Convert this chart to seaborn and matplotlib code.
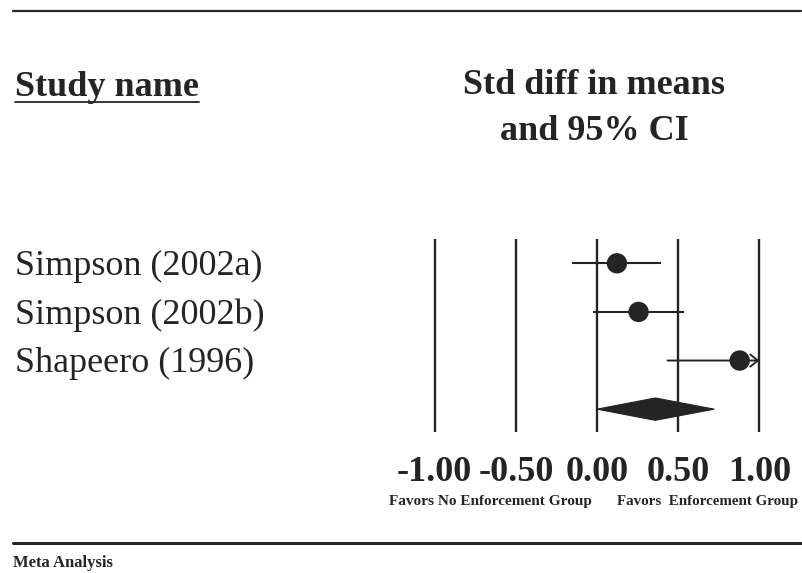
import matplotlib
matplotlib.use("Agg")
import matplotlib.pyplot as plt
import matplotlib.transforms as mtransforms
from matplotlib.patches import Polygon
from matplotlib.lines import Line2D
import numpy as np
import pandas as pd
import seaborn as sns

# Individual studies: standardized difference in means with 95% CI
studies = ["Simpson (2002a)", "Simpson (2002b)", "Shapeero (1996)"]
effect = [0.123, 0.256, 0.879]
ci_low = [-0.154, -0.025, 0.435]
ci_high = [0.396, 0.534, 1.320]

# Pooled estimate
summary_effect = 0.359
summary_low = 0.000
summary_high = 0.723

ticks = [-1.0, -0.5, 0.0, 0.5, 1.0]
tick_labels = ["-1.00", "-0.50", "0.00", "0.50", "1.00"]
left_note = "Favors No Enforcement Group"
right_note = "Favors  Enforcement Group"

INK = "#242424"
W, H = 803, 573

sns.set_theme(style="white")
plt.rcParams["font.family"] = ["Liberation Serif", "DejaVu Serif"]

fig = plt.figure(figsize=(W / 100, H / 100), dpi=100)
fig.patch.set_facecolor("white")

# plotting panel placed in pixel units
x0, x1 = 434.7, 759.3
y0, y1 = 239.0, 432.0
ax = fig.add_axes([x0 / W, 1 - y1 / H, (x1 - x0) / W, (y1 - y0) / H])
ax.set_xlim(-1, 1)
n = len(studies)
ax.set_ylim(n + 0.47, -0.5)
for s in ax.spines.values():
    s.set_visible(False)
ax.set_facecolor("none")
ax.set_yticks([])

# reference lines at each tick
ax.vlines(ticks, -0.5, n + 0.47, color=INK, lw=1.7, zorder=1, clip_on=False)

df = pd.DataFrame({"study": studies, "effect": effect,
                   "low": ci_low, "high": ci_high, "row": np.arange(n)})

# confidence intervals (truncated ones end in an open arrow at the axis limit)
lo_lim, hi_lim = ax.get_xlim()
for _, r in df.iterrows():
    lo = max(r["low"], lo_lim)
    hi = min(r["high"], hi_lim)
    if r["high"] > hi_lim:
        ax.annotate("", xy=(hi, r["row"]), xytext=(lo, r["row"]),
                    arrowprops=dict(arrowstyle="->, head_length=0.27, head_width=0.22",
                                    color=INK, lw=1.4, mutation_scale=20,
                                    shrinkA=0, shrinkB=0),
                    zorder=4, annotation_clip=False)
    else:
        ax.hlines(r["row"], lo, hi, color=INK, lw=1.5, zorder=2, clip_on=False)

sns.scatterplot(data=df, x="effect", y="row", ax=ax, s=215, color=INK,
                edgecolor="none", zorder=3, clip_on=False, legend=False)

# summary diamond
yd = n
hd = 0.23
diamond = Polygon([(summary_low, yd), (summary_effect, yd - hd),
                   (summary_high, yd), (summary_effect, yd + hd)],
                  closed=True, facecolor=INK, edgecolor=INK, lw=0.8, zorder=3,
                  clip_on=False)
ax.add_patch(diamond)

# x axis labels
ax.set_xticks(ticks)
ax.set_xticklabels(tick_labels)
ax.tick_params(axis="x", length=0, pad=17.5, labelsize=26, colors=INK)
for t in ax.get_xticklabels():
    t.set_fontweight("bold")
ax.set_xlabel("")
ax.set_ylabel("")

# study names aligned with rows
row_tf = mtransforms.blended_transform_factory(fig.transFigure, ax.transData)
for i, name in enumerate(studies):
    fig.text(15 / W, i + 0.06, name, transform=row_tf, ha="left", va="center",
             fontsize=26, color=INK)

# column headers
hdr = fig.text(15 / W, 1 - 96 / H, "Study name", ha="left", va="baseline",
               fontsize=26, fontweight="bold", color=INK)
fig.text(594 / W, 1 - 85 / H, "Std diff in means", ha="center",
         va="center", fontsize=26, fontweight="bold", color=INK)
fig.text(594 / W, 1 - 132 / H, "and 95% CI", ha="center",
         va="center", fontsize=26, fontweight="bold", color=INK)

# direction notes under the axis
fig.text(490 / W, 1 - 502 / H, left_note, ha="center", va="center",
         fontsize=11, fontweight="bold", color=INK)
fig.text(708 / W, 1 - 502 / H, right_note, ha="center", va="center",
         fontsize=10.8, fontweight="bold", color=INK)

fig.text(13 / W, 1 - 563 / H, "Meta Analysis", ha="left", va="center",
         fontsize=12, fontweight="bold", color=INK)

# horizontal rules
fig.add_artist(Line2D([13 / W, 801 / W], [1 - 10.7 / H] * 2, lw=1.6, color=INK))
fig.add_artist(Line2D([13 / W, 801 / W], [1 - 542.7 / H] * 2, lw=2.2, color=INK))

# underline the "Study name" header
fig.canvas.draw()
bb = hdr.get_window_extent().transformed(fig.transFigure.inverted())
fig.add_artist(Line2D([bb.x0, bb.x1], [1 - 101.7 / H] * 2, lw=1.3, color=INK))

fig.savefig("out.png", dpi=100, facecolor="white")
